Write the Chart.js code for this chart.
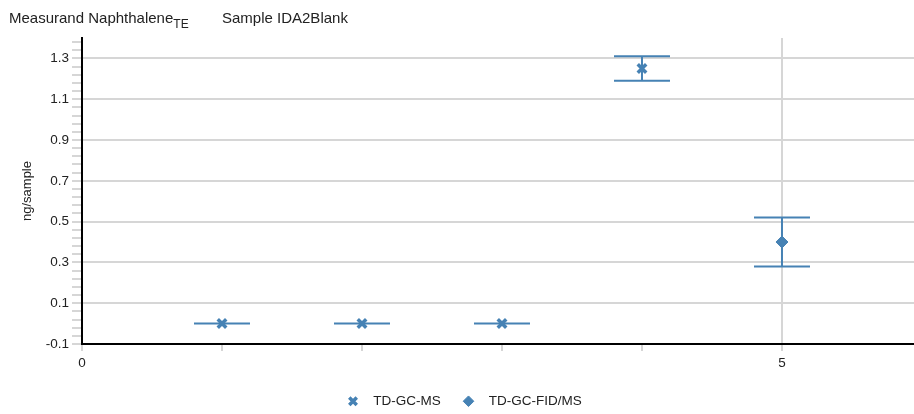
<!DOCTYPE html>
<html lang="en">
<head>
<meta charset="UTF-8">
<title>Naphthalene IDA2Blank</title>
<script src="https://cdn.jsdelivr.net/npm/chart.js"></script>
<style>
  body { margin: 0; padding: 0; background: #fff; font-family: 'Liberation Sans', Arial, sans-serif; }
  .wrap { position: relative; width: 914px; height: 414px; overflow: hidden; }
  .title {
    position: absolute; top: 9px; left: 9px;
    font-size: 15px; line-height: 17px; color: #222; white-space: nowrap;
  }
  .title sub { font-size: 12px; vertical-align: -5px; line-height: 0; }
  .title .sample { position: absolute; left: 213px; top: 0; }
</style>
</head>
<body>
<div class="wrap">
  <canvas id="chart" width="914" height="414"></canvas>
  <div class="title">Measurand Naphthalene<sub>TE</sub><span class="sample">Sample IDA2Blank</span></div>
</div>
<script>
  // TD-GC-MS results (value, lower / upper uncertainty)
  const msX = [1, 2, 3, 4];
  const msY = [0, 0, 0, 1.25];
  const msLow = [0, 0, 0, 1.19];
  const msHigh = [0, 0, 0, 1.31];

  // TD-GC-FID/MS result
  const fidX = [5];
  const fidY = [0.4];
  const fidLow = [0.28];
  const fidHigh = [0.52];

  const xTickLabels = ["0", "", "", "", "", "5"];
  const yMajorLabels = ["-0.1", "0.1", "0.3", "0.5", "0.7", "0.9", "1.1", "1.3"];

  const blue = "#4682b4";
  const gridGrey = "#d6d6d6";
  const font = "'Liberation Sans', Arial, sans-serif";

  // error bars drawn through the chart scales
  const errorBars = {
    id: "errorBars",
    beforeDatasetsDraw(chart) {
      const ctx = chart.ctx;
      const xs = chart.scales.x, ys = chart.scales.y;
      chart.data.datasets.forEach((ds) => {
        ds.data.forEach((p) => {
          const px = xs.getPixelForValue(p.x);
          const half = (xs.getPixelForValue(p.x + 0.2) - xs.getPixelForValue(p.x - 0.2)) / 2;
          const top = ys.getPixelForValue(p.high);
          const bot = ys.getPixelForValue(p.low);
          ctx.save();
          ctx.strokeStyle = blue;
          ctx.lineWidth = 2;
          ctx.beginPath();
          ctx.moveTo(px, top); ctx.lineTo(px, bot);
          ctx.moveTo(px - half, top); ctx.lineTo(px + half, top);
          ctx.moveTo(px - half, bot); ctx.lineTo(px + half, bot);
          ctx.stroke();
          ctx.restore();
        });
      });
    }
  };

  // minor ticks every 0.04, labelled majors every 0.2
  const tickIndex = (v) => Math.round((v + 0.1) / 0.04);
  const isMajor = (v) => tickIndex(v) % 5 === 0;

  new Chart(document.getElementById("chart"), {
    type: "scatter",
    data: {
      datasets: [
        {
          label: "TD-GC-MS",
          data: msX.map((x, i) => ({ x: x, y: msY[i], low: msLow[i], high: msHigh[i] })),
          pointStyle: "crossRot",
          pointRadius: 6,
          borderWidth: 3.5,
          borderColor: blue,
          backgroundColor: blue
        },
        {
          label: "TD-GC-FID/MS",
          data: fidX.map((x, i) => ({ x: x, y: fidY[i], low: fidLow[i], high: fidHigh[i] })),
          pointStyle: "rectRot",
          pointRadius: 6,
          borderWidth: 1,
          borderColor: blue,
          backgroundColor: blue
        }
      ]
    },
    options: {
      responsive: false,
      animation: false,
      layout: { autoPadding: false, padding: { top: 38, right: 0, left: 14, bottom: -4 } },
      plugins: {
        tooltip: { enabled: false },
        legend: {
          position: "bottom",
          labels: {
            usePointStyle: true,
            boxHeight: 7.5,
            padding: 21,
            color: "#222",
            font: { family: font, size: 13.5 },
            generateLabels: (chart) =>
              Chart.defaults.plugins.legend.labels.generateLabels(chart).map((l) => {
                l.text = "\u2002" + l.text;
                return l;
              })
          }
        }
      },
      scales: {
        x: {
          type: "linear",
          min: 0,
          max: 5.943,
          afterFit: (s) => { s.height = 29.5; s.paddingRight = 0; s.paddingLeft = 0; },
          ticks: {
            stepSize: 1,
            includeBounds: false,
            autoSkip: false,
            maxRotation: 0,
            padding: 4,
            color: "#222",
            font: { family: font, size: 13.5 },
            callback: (v) => xTickLabels[v] ?? ""
          },
          grid: {
            color: (c) => (c.tick && c.tick.value === 5 ? gridGrey : "rgba(0,0,0,0)"),
            lineWidth: 2,
            tickColor: gridGrey,
            tickLength: 7
          },
          border: { color: "#000", width: 2 }
        },
        y: {
          min: -0.1,
          max: 1.4,
          afterFit: (s) => { s.width = 68; },
          afterBuildTicks: (s) => {
            const t = [];
            for (let i = 0; i <= 37; i++) t.push({ value: -0.1 + i * 0.04 });
            s.ticks = t;
          },
          title: {
            display: true,
            text: "ng/sample",
            color: "#222",
            padding: { top: 6, bottom: 0 },
            font: { family: font, size: 13 }
          },
          ticks: {
            autoSkip: false,
            padding: 3,
            color: "#222",
            font: { family: font, size: 13.5 },
            callback: (v) => (isMajor(v) ? (yMajorLabels[tickIndex(v) / 5] ?? "") : "")
          },
          grid: {
            color: (c) => (c.tick && isMajor(c.tick.value) && c.tick.value > -0.05 ? gridGrey : "rgba(0,0,0,0)"),
            lineWidth: 2,
            tickColor: gridGrey,
            tickLength: 10
          },
          border: { color: "#000", width: 2 }
        }
      }
    },
    plugins: [errorBars]
  });
</script>
</body>
</html>
